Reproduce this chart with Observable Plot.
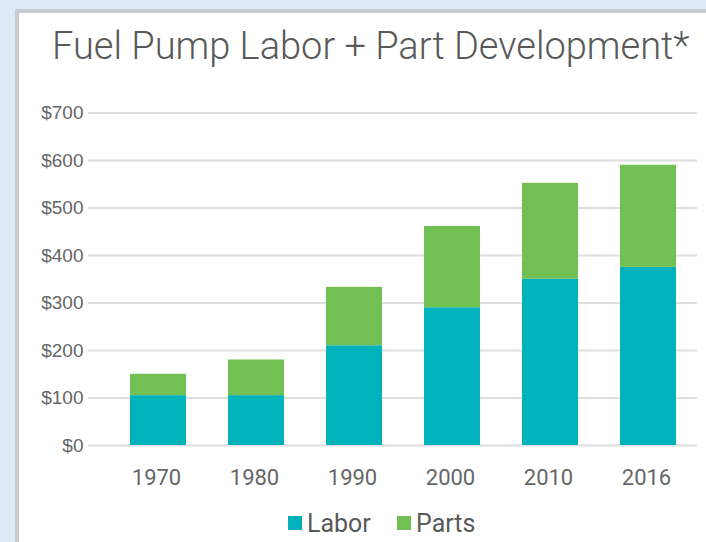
<!DOCTYPE html>
<html>
<head>
<meta charset="utf-8">
<script src="https://cdn.jsdelivr.net/npm/d3@7"></script>
<script src="https://cdn.jsdelivr.net/npm/@observablehq/plot@0.6"></script>
<style>
  html, body { margin: 0; padding: 0; }
  body { width: 706px; height: 542px; background: #DDEAF6; position: relative; overflow: hidden; }
  #panel { position: absolute; left: 15px; top: 9px; width: 700px; height: 540px; background: #fff;
           border-left: 4px solid #C8CCD0; border-top: 4px solid #C8CCD0; }
  #title { position: absolute; left: 52px; top: 27px; font-family: Roboto, sans-serif; font-weight: 300;
           font-size: 38px; line-height: 38px; color: #595959; white-space: nowrap; }
  #chart { position: absolute; left: 0; top: 80px; }
  .sw { position: absolute; width: 14px; height: 14px; top: 516px; }
  .lt { position: absolute; top: 511px; font-family: Roboto, sans-serif; font-size: 25px; line-height: 25px; color: #595959; }
</style>
</head>
<body>
<div id="panel"></div>
<div id="title">Fuel Pump Labor + Part Development*</div>
<div id="chart"></div>
<div class="sw" style="left:288px;background:#00B2BC"></div><span class="lt" style="left:307px">Labor</span>
<div class="sw" style="left:397px;background:#72BF53"></div><span class="lt" style="left:416px">Parts</span>
<script>
const years = ["1970", "1980", "1990", "2000", "2010", "2016"];
const labor = [105, 105, 210, 290, 350, 375];
const parts = [45, 75, 123, 171, 202, 215];
const seriesNames = ["Labor", "Parts"];
const seriesColors = ["#00B2BC", "#72BF53"];
const yTicks = [0, 100, 200, 300, 400, 500, 600, 700];

const data = years.flatMap((yr, i) => [
  {year: yr, series: "Labor", value: labor[i]},
  {year: yr, series: "Parts", value: parts[i]}
]);

const chart = Plot.plot({
  width: 706,
  height: 420,
  marginLeft: 88,
  marginRight: 9,
  marginTop: 32.5,
  marginBottom: 55,
  style: {background: "transparent", color: "#666", fontFamily: "Roboto, sans-serif"},
  x: {domain: years, range: [108, 698], paddingInner: 0.431, paddingOuter: 0.2155, label: null},
  y: {domain: [0, 700], label: null},
  color: {domain: seriesNames, range: seriesColors},
  marks: [
    Plot.ruleY(yTicks, {stroke: "#DEDEDE", strokeWidth: 2}),
    Plot.barY(data, {x: "year", y: "value", fill: "series"}),
    Plot.axisY({ticks: yTicks, tickSize: 0, tickPadding: 5, tickFormat: d => "$" + d,
                fontSize: 19, fontFamily: "Liberation Sans, Arial, sans-serif", label: null}),
    Plot.axisX({tickSize: 0, tickPadding: 24, fontSize: 22, dx: -2, label: null})
  ]
});
document.getElementById("chart").appendChild(chart);
</script>
</body>
</html>
